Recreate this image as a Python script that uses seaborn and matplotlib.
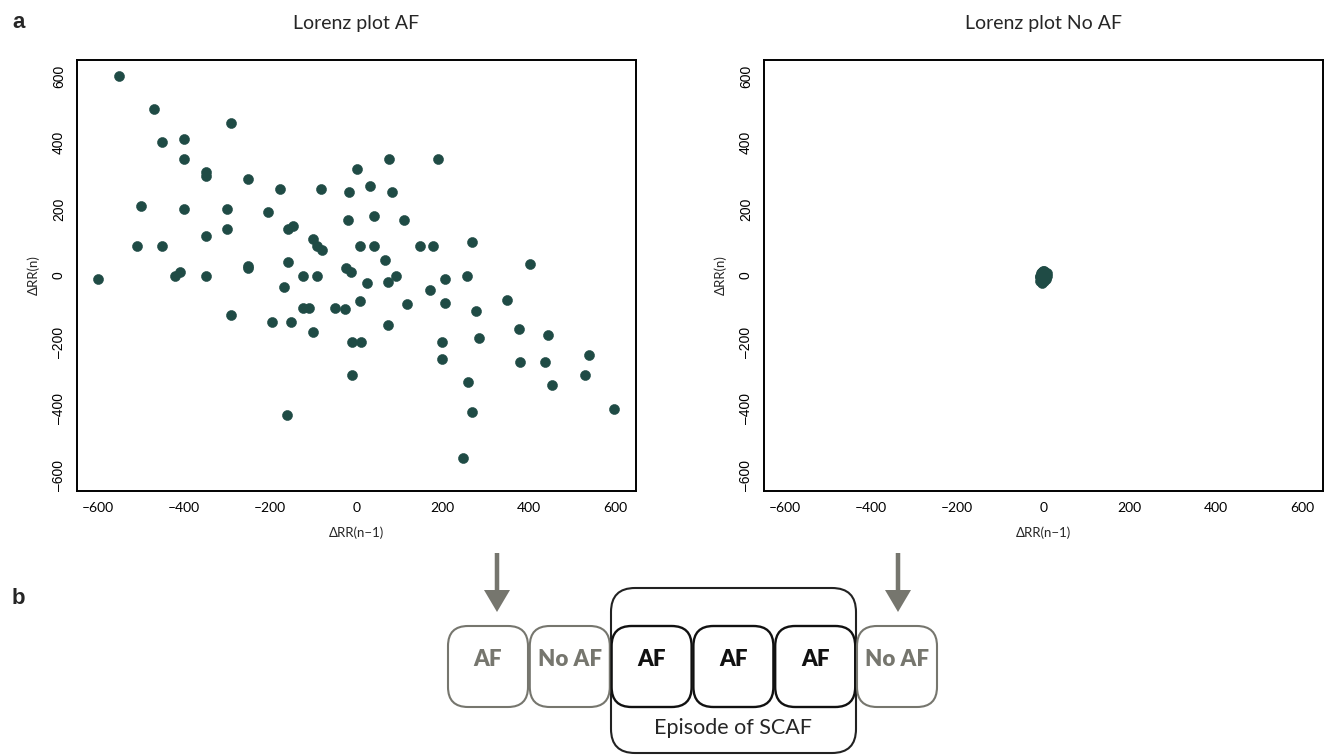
import numpy as np
import pandas as pd
import seaborn as sns
import matplotlib.pyplot as plt
from matplotlib.patches import FancyBboxPatch, FancyArrow

sns.set_style("white")
plt.rcParams['font.family'] = ['Lato', 'DejaVu Sans']

# Lorenz plot during AF: delta RR(n-1) vs delta RR(n), in ms
af_dx = [-550, -470, -450, -400, -400, -350, -350, -292, -251, -177, -83, -500, -400, -300,
         -206, -158, -148, -102, -91, -79, -510, -450, -350, -300, -251, -251, -158, -124,
         -91, -420, -410, -350, -600,
         75, 188, 1, 31, -17, 83, -20, 40, 111, 9, 40, 148, 178, 268, 67, 402, -24, -12, 91,
         74, 24, 206, 256, 171, 9, 117, 206, 349, 276, -51, -27, 74, 377, 445, -10, 10, 198,
         284, 198, 378, 437, 540, 530, 453, 258, -10, 268, 597, 247,
         -168, -292, -197, -151, -124, -110, -101, -160]
af_dy = [600, 500, 400, 410, 350, 310, 300, 460, 290, 260, 260, 210, 200, 200,
         190, 140, 150, 110, 90, 76, 90, 90, 120, 140, 30, 23, 40, 0,
         0, 0, 10, 0, -10,
         350, 350, 320, 270, 250, 250, 166, 180, 166, 90, 90, 90, 90, 100, 48, 36, 23, 10, 0,
         -20, -24, -10, 0, -45, -78, -86, -84, -74, -108, -98, -100, -150, -160, -180, -200, -200, -200,
         -189, -250, -259, -259, -240, -300, -330, -319, -299, -410, -400, -550,
         -35, -119, -139, -139, -99, -99, -169, -420]

# Lorenz plot without AF: tight cluster around the origin
noaf_dx = [-8, -6, -4, -2, 0, 2, 4, 6, 8, -5, 0, 5, -3, 3, 0, -7, 7, -1, 1, -9, -4, 2]
noaf_dy = [0, 8, 12, 14, 15, 12, 9, 4, -2, -10, -16, -10, -20, -6, 6, -4, 8, -14, 0, -18, -22, -8]

ticks = [-600, -400, -200, 0, 200, 400, 600]
titles = ["Lorenz plot AF", "Lorenz plot No AF"]

# sequence of episodes in panel b
seq_labels = ["AF", "No AF", "AF", "AF", "AF", "No AF"]
seq_in_scaf = [False, False, True, True, True, False]

dot_color = "#1f4b45"
grey = "#76766e"

fig = plt.figure(figsize=(13.25, 7.56), dpi=100)
W, H = 1325, 756

ax1 = fig.add_axes([77 / W, 265 / H, 559 / W, 431 / H])
ax2 = fig.add_axes([764 / W, 265 / H, 559 / W, 431 / H])

sns.scatterplot(x=af_dx, y=af_dy, ax=ax1, color=dot_color, s=52,
                edgecolor=dot_color, linewidth=0.4)
sns.scatterplot(x=noaf_dx, y=noaf_dy, ax=ax2, color=dot_color, s=52,
                edgecolor=dot_color, linewidth=0.4)

for ax, title in zip([ax1, ax2], titles):
    ax.set_xlim(-648, 648)
    ax.set_ylim(-648, 648)
    ax.set_xticks(ticks)
    ax.set_yticks(ticks)
    ax.set_xticklabels([f"\u2013{abs(t)}" if t < 0 else str(t) for t in ticks],
                       fontsize=10, fontfamily=['Lato', 'DejaVu Sans'])
    ax.set_yticklabels([f"\u2013{abs(t)}" if t < 0 else str(t) for t in ticks],
                       fontsize=10, rotation=90, va='center',
                       fontfamily=['Liberation Sans', 'DejaVu Sans'])
    ax.tick_params(direction='out', length=5, width=1.3, pad=3, colors='black')
    for s in ax.spines.values():
        s.set_visible(True)
        s.set_linewidth(1.4)
        s.set_color('black')
    ax.set_xlabel("\u0394RR(n\u22121)", fontsize=9.5, labelpad=9)
    ax.set_ylabel("\u0394RR(n)", fontsize=9.5, labelpad=9)
    ax.set_title(title, fontsize=14, pad=22)

# overlay in pixel coordinates for panel letters and the diagram
ov = fig.add_axes([0, 0, 1, 1], zorder=-1)
ov.set_xlim(0, W)
ov.set_ylim(H, 0)
ov.axis('off')

ov.text(12, 22, "a", fontsize=16, fontweight='bold', va='center', ha='left',
        fontfamily=['Liberation Sans', 'DejaVu Sans'])
ov.text(12, 598, "b", fontsize=16, fontweight='bold', va='center', ha='left',
        fontfamily=['Liberation Sans', 'DejaVu Sans'])

# arrows from the plots down to the sequence
for xa in [497, 898]:
    ov.add_patch(FancyArrow(xa, 553, 0, 59, width=4.5, head_width=26, head_length=22,
                            length_includes_head=True, color=grey, lw=0))

# big SCAF box
ov.add_patch(FancyBboxPatch((611, 588), 245, 165,
                            boxstyle="round,pad=0,rounding_size=24",
                            fc='none', ec='#222222', lw=1.5))
ov.text(733.5, 728, "Episode of SCAF", fontsize=15.5, ha='center', va='center',
        fontfamily=['Lato', 'DejaVu Sans'])

box_w, box_h = 80, 81
x0 = 448
for i, (lab, inside) in enumerate(zip(seq_labels, seq_in_scaf)):
    bx = x0 + i * 81.8
    col = '#111111' if inside else grey
    ov.add_patch(FancyBboxPatch((bx, 626), box_w, box_h,
                                boxstyle="round,pad=0,rounding_size=20",
                                fc='none', ec=col, lw=1.7 if inside else 1.5))
    ov.text(bx + box_w / 2, 659, lab, fontsize=16, fontweight='heavy',
            ha='center', va='center', color=col,
            fontfamily=['Lato', 'DejaVu Sans'])

fig.savefig("out.png", dpi=100)
